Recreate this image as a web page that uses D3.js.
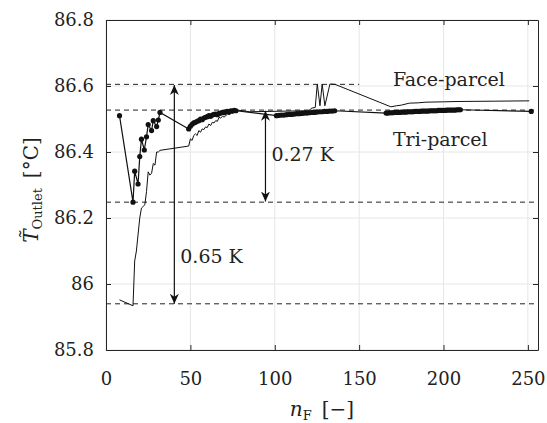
<!DOCTYPE html>
<html><head><meta charset="utf-8">
<script src="https://cdn.jsdelivr.net/npm/d3@7"></script>
<style>body{margin:0;background:#fff}svg{display:block}</style>
</head><body>
<script>
// ---- data ----
const xTicks = [0, 50, 100, 150, 200, 250];
const yTicks = [85.8, 86, 86.2, 86.4, 86.6, 86.8];
const yTickLabels = ["85.8", "86", "86.2", "86.4", "86.6", "86.8"];

const triX = [8,16,17,19,20,21,22.7,24,25,27,28,30,31,32,
  49,50,51,52,53,54,55,56,57,58,59,60,61,62,63,64,65,66,67,68,69,70,71,72,73,74,75,76,77,
  101,102.5,104,105.5,107,108.5,110,111.5,113,114.5,116,117.5,119,120.5,122,123.5,125,126.5,128,129.5,131,132.5,134,135.5,
  166,167,168,169,170,171,172,173,174,175,176,177,178,179,180,181,182,183,184,185,186,187,188,189,190,191,192,193,194,195,196,197,198,199,200,201,202,203,204,205,206,207,208,209,210,
  252];
const triY = [86.51,86.248,86.342,86.303,86.386,86.439,86.406,86.446,86.483,86.465,86.495,86.477,86.497,86.52,
  86.47,86.478,86.484,86.488,86.49,86.493,86.495,86.5,86.498,86.503,86.505,86.507,86.51,86.508,86.512,86.514,86.515,86.513,86.517,86.518,86.52,86.519,86.522,86.523,86.521,86.525,86.524,86.526,86.525,
  86.51,86.511,86.512,86.512,86.513,86.514,86.514,86.515,86.516,86.516,86.517,86.518,86.518,86.519,86.52,86.52,86.521,86.522,86.522,86.523,86.523,86.524,86.524,86.525,
  86.518,86.518,86.519,86.519,86.519,86.52,86.52,86.52,86.52,86.521,86.521,86.521,86.521,86.522,86.522,86.522,86.522,86.523,86.523,86.523,86.523,86.524,86.524,86.524,86.524,86.524,86.525,86.525,86.525,86.525,86.525,86.526,86.526,86.526,86.526,86.526,86.527,86.527,86.527,86.527,86.527,86.527,86.528,86.528,86.528,
  86.523];

const faceX = [8,16,17,18,20,21,22,23,24,25,26,27,28,29,30,31,32,
  49,50,51,52,53,54,55,56,57,58,59,60,61,62,63,64,65,66,67,68,69,70,71,72,73,74,75,76,78,85,
  120,122,124,125.2,126.8,128.1,129.7,132.7,135.7,168.8,172,175,179.7,185,189.6,200,207.4,230,250.8];
const faceY = [85.952,85.934,86.07,86.1,86.2,86.23,86.235,86.24,86.28,86.34,86.33,86.335,86.365,86.36,86.4,86.4,86.405,
  86.418,86.44,86.435,86.45,86.455,86.45,86.465,86.46,86.47,86.468,86.476,86.474,86.485,86.48,86.49,86.488,86.495,86.493,86.505,86.503,86.508,86.506,86.51,86.515,86.513,86.52,86.518,86.523,86.527,86.522,
  86.525,86.533,86.535,86.606,86.54,86.606,86.54,86.606,86.605,86.537,86.54,86.542,86.548,86.549,86.551,86.552,86.553,86.554,86.555];

const refLevels = [86.605, 86.527, 86.248, 85.94];
const refEnds = [150, 256, 256, 256];
const arrows = [{x: 40.5, y0: 86.603, y1: 85.94, label: "0.65 K", lx: 44, ly: 86.065},
                {x: 94.5, y0: 86.525, y1: 86.25, label: "0.27 K", lx: 98, ly: 86.372}];
const seriesLabels = [{text: "Face-parcel", x: 170, y: 86.6}, {text: "Tri-parcel", x: 170, y: 86.418}];

// ---- chart ----
const W = 547, H = 423;
const m = {l: 106, r: 9, t: 20, b: 73};
const svg = d3.select("body").append("svg").attr("width", W).attr("height", H)
  .style("font-family", "'DejaVu Serif', serif");
const x = d3.scaleLinear().domain([0, 256]).range([m.l, W - m.r]);
const y = d3.scaleLinear().domain([85.8, 86.8]).range([H - m.b, m.t]);
const axisCol = "#262626";

// grid
svg.append("g").selectAll("line.gx").data(xTicks).join("line")
  .attr("x1", d => x(d)).attr("x2", d => x(d)).attr("y1", y(85.8)).attr("y2", y(86.8))
  .attr("stroke", "#e6e6e6").attr("stroke-width", 1);
svg.append("g").selectAll("line.gy").data(yTicks).join("line")
  .attr("x1", x(0)).attr("x2", x(256)).attr("y1", d => y(d)).attr("y2", d => y(d))
  .attr("stroke", "#e6e6e6").attr("stroke-width", 1);

// dashed reference lines
svg.append("g").selectAll("line").data(refLevels).join("line")
  .attr("x1", x(0)).attr("x2", (d, i) => x(refEnds[i]))
  .attr("y1", d => y(d)).attr("y2", d => y(d))
  .attr("stroke", "#222").attr("stroke-width", 1).attr("stroke-dasharray", "5,4");

// arrows
const defs = svg.append("defs");
defs.append("marker").attr("id", "ah").attr("viewBox", "0 0 10 10").attr("refX", 10).attr("refY", 5)
  .attr("markerWidth", 10).attr("markerHeight", 10).attr("markerUnits", "userSpaceOnUse")
  .attr("orient", "auto-start-reverse")
  .append("path").attr("d", "M0,0.5 L10,5 L0,9.5 L3,5 Z").attr("fill", "#111");
svg.append("g").selectAll("line").data(arrows).join("line")
  .attr("x1", d => x(d.x)).attr("x2", d => x(d.x)).attr("y1", d => y(d.y0)).attr("y2", d => y(d.y1))
  .attr("stroke", "#111").attr("stroke-width", 1.2)
  .attr("marker-start", "url(#ah)").attr("marker-end", "url(#ah)");
svg.append("g").selectAll("text").data(arrows).join("text")
  .attr("x", d => x(d.lx)).attr("y", d => y(d.ly)).attr("font-size", 19).attr("fill", "#222")
  .text(d => d.label);

// series
const line = d3.line().x(d => x(d[0])).y(d => y(d[1]));
const face = faceX.map((v, i) => [v, faceY[i]]);
const tri = triX.map((v, i) => [v, triY[i]]);
svg.append("path").datum(face).attr("d", line).attr("fill", "none").attr("stroke", "#111").attr("stroke-width", 1);
svg.append("path").datum(tri).attr("d", line).attr("fill", "none").attr("stroke", "#111").attr("stroke-width", 1.2);
svg.append("g").selectAll("circle").data(tri).join("circle")
  .attr("cx", d => x(d[0])).attr("cy", d => y(d[1])).attr("r", 2.6).attr("fill", "#111");

svg.append("g").selectAll("text").data(seriesLabels).join("text")
  .attr("x", d => x(d.x)).attr("y", d => y(d.y)).attr("font-size", 19).attr("fill", "#222")
  .text(d => d.text);

// axes box
const gx = svg.append("g").attr("transform", `translate(0,${y(85.8)})`)
  .call(d3.axisBottom(x).tickValues(xTicks).tickSizeInner(-5).tickSizeOuter(0).tickPadding(19));
const gxt = svg.append("g").attr("transform", `translate(0,${y(86.8)})`)
  .call(d3.axisTop(x).tickValues(xTicks).tickSizeInner(-5).tickSizeOuter(0).tickFormat(""));
const gy = svg.append("g").attr("transform", `translate(${x(0)},0)`)
  .call(d3.axisLeft(y).tickValues(yTicks).tickFormat((d, i) => yTickLabels[i]).tickSizeInner(-5).tickSizeOuter(0).tickPadding(12));
const gyr = svg.append("g").attr("transform", `translate(${x(256)},0)`)
  .call(d3.axisRight(y).tickValues(yTicks).tickSizeInner(-5).tickSizeOuter(0).tickFormat(""));
[gx, gxt, gy, gyr].forEach(g => {
  g.select(".domain").attr("stroke", axisCol).attr("stroke-width", 1);
  g.selectAll(".tick line").attr("stroke", axisCol);
  g.selectAll("text").attr("font-family", "'DejaVu Serif', serif").attr("font-size", 18).attr("fill", "#222");
});
gx.selectAll("text").attr("dy", "0.9em");

// axis titles
const xl = svg.append("text").attr("x", 322).attr("y", 416).attr("text-anchor", "middle")
  .attr("font-size", 20).attr("fill", "#222");
xl.append("tspan").attr("font-style", "italic").text("n");
xl.append("tspan").attr("font-size", 13).attr("dy", 4).text("F");
xl.append("tspan").attr("dy", -4).text("\u2002[\u2212]");

const yl = svg.append("text").attr("transform", "translate(38,190) rotate(-90)").attr("text-anchor", "middle")
  .attr("font-size", 20).attr("fill", "#222");
yl.append("tspan").attr("font-style", "italic").text("T\u0303");
yl.append("tspan").attr("font-size", 13).attr("dy", 4).text("Outlet");
yl.append("tspan").attr("dy", -4).text("\u2002[\u00B0C]");
</script>
</body></html>
